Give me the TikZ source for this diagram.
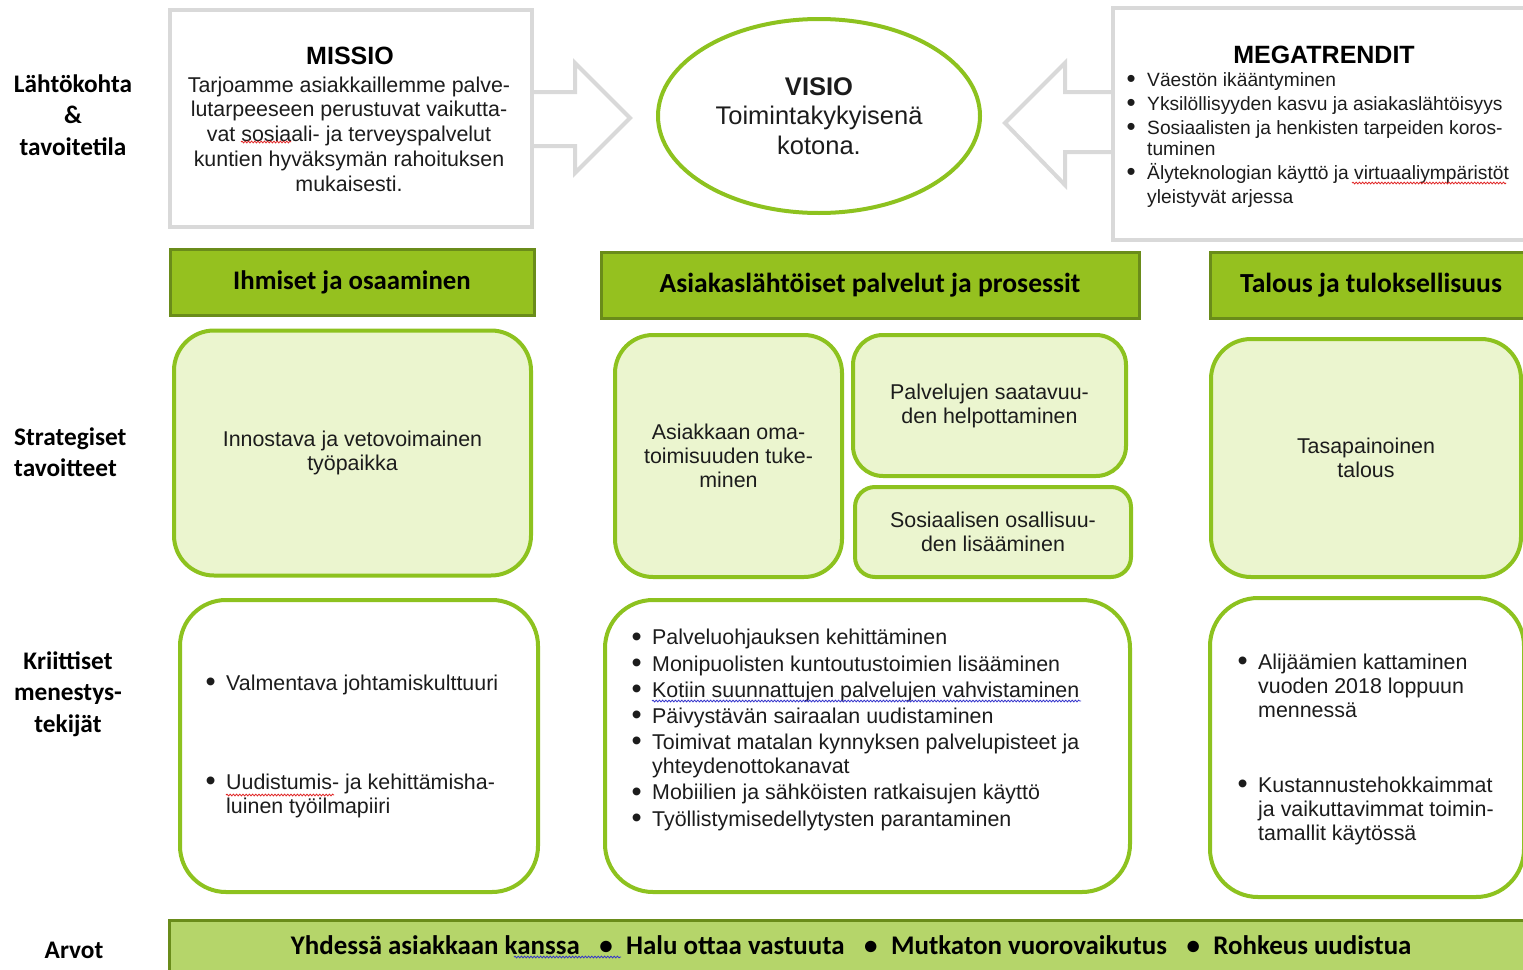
\documentclass[tikz,border=0pt]{standalone}
\usepackage{fontspec}
\setmainfont{Liberation Sans}
\newfontfamily\calfont{Carlito}
\usetikzlibrary{shapes.geometric,decorations.pathmorphing}

\definecolor{grn}{HTML}{8DC21F}
\definecolor{hdrfill}{HTML}{95C11F}
\definecolor{hdrline}{HTML}{6A8C1A}
\definecolor{softfill}{HTML}{EBF5CF}
\definecolor{barfill}{HTML}{B5D56A}
\definecolor{greyline}{HTML}{D9D9D9}
\definecolor{ink}{HTML}{1C1C1C}
\definecolor{spellred}{HTML}{E02424}
\definecolor{spellblue}{HTML}{3333CC}

% bullet in a fixed-width box, and the matching hanging indent
\newcommand{\bul}{\makebox[19pt][l]{\hspace{-1.5pt}\raisebox{-1.2pt}{\scalebox{1.35}{\textbullet}}}}
\newcommand{\cnt}{\hspace*{19pt}}

\tikzset{
  greybox/.style={draw=greyline, line width=4pt, fill=white, inner sep=0pt},
  greyarrow/.style={draw=greyline, line width=4pt, line join=miter},
  header/.style={draw=hdrline, line width=3pt, fill=hdrfill, inner sep=0pt,
    font=\calfont\bfseries\fontsize{27.6}{30}\selectfont, text=black},
  goal/.style={draw=grn, line width=4pt, fill=softfill, inner sep=0pt,
    align=center, text=ink, font=\fontsize{21.4}{24}\selectfont},
  factor/.style={draw=grn, line width=4pt, fill=white, inner sep=0pt},
  rowlabel/.style={font=\calfont\bfseries\fontsize{25.3}{31.5}\selectfont, text=black, inner sep=0pt},
  body/.style={font=\fontsize{21.4}{24.8}\selectfont, text=ink, inner sep=0pt},
  listtext/.style={anchor=west, align=left, inner sep=0pt, text=ink,
    font=\fontsize{21.4}{24}\selectfont},
  title/.style={font=\bfseries\fontsize{25}{28}\selectfont, text=black, inner sep=0pt},
  spell/.style={line width=0.8pt, decorate,
    decoration={snake, amplitude=0.9pt, segment length=3.2pt}},
}

\begin{document}
\begin{tikzpicture}[x=1pt, y=-1pt]
\useasboundingbox (0,0) rectangle (1523,969);

% ---------- row labels ----------
\node[rowlabel, align=center] (lblStart) at (73,115) {Lähtökohta\\\&\\tavoitetila};
\node[rowlabel, align=left, anchor=west] (lblGoals) at (14,452) {Strategiset\\tavoitteet};
\node[rowlabel, align=center] (lblFactors) at (68,694) {Kriittiset\\menestys-\\tekijät};
\node[rowlabel] (lblValues) at (74,950) {Arvot};

% ---------- mission ----------
\node[greybox, minimum width=362, minimum height=217] (missio) at (351,118.5) {};
\draw[greyarrow] (missio.east |- 0,92) -- (575,92) -- (575,63) -- (630,118)
  -- (575,173) -- (575,146) -- (missio.east |- 0,146);
\node[title] (missioTitle) at (350,56) {MISSIO};
\node[body, align=center] (missioText) at (349,134)
  {Tarjoamme asiakkaillemme palve-\\lutarpeeseen perustuvat vaikutta-\\vat sosiaali- ja terveyspalvelut\\kuntien hyväksymän rahoituksen\\mukaisesti.};

% ---------- vision ----------
\node[draw=grn, line width=4pt, ellipse, minimum width=322, minimum height=194,
  inner sep=0pt, align=center, text=ink, font=\fontsize{25.5}{29.5}\selectfont]
  (visio) at (819,116) {\textbf{VISIO}\\Toimintakykyisenä\\kotona.};

% ---------- megatrends ----------
\node[greybox, minimum width=425, minimum height=232] (mega) at (1325.5,124) {};
\draw[greyarrow] (mega.west |- 0,92) -- (1065,92) -- (1065,63) -- (1005,123)
  -- (1065,185) -- (1065,152) -- (mega.west |- 0,152);
\node[title] (megaTitle) at (1324,55) {MEGATRENDIT};
\node[listtext, font=\fontsize{19.2}{21.3}\selectfont] (megaList) at (1128,140)
  {\bul Väestön ikääntyminen\\[2.7pt]
   \bul Yksilöllisyyden kasvu ja asiakaslähtöisyys\\[2.7pt]
   \bul Sosiaalisten ja henkisten tarpeiden koros-\\
   \cnt tuminen\\[2.7pt]
   \bul Älyteknologian käyttö ja virtuaaliympäristöt\\[2.7pt]
   \cnt yleistyvät arjessa};

% ---------- perspective headers ----------
\node[header, minimum width=364, minimum height=66, font=\calfont\bfseries\fontsize{26.8}{30}\selectfont]
  (hPeople) at (352,282) {Ihmiset ja osaaminen};
\node[header, minimum width=538, minimum height=66] (hServices) at (870,285) {Asiakaslähtöiset palvelut ja prosessit};
\node[header, minimum width=322, minimum height=66] (hEconomy) at (1371,285) {Talous ja tuloksellisuus};

% ---------- strategic goals ----------
\node[goal, rounded corners=40pt, minimum width=357, minimum height=245] (gWork) at (352.5,453)
  {Innostava ja vetovoimainen\\työpaikka};
\node[goal, rounded corners=38pt, minimum width=227, minimum height=242] (gSelf) at (728.5,456)
  {Asiakkaan oma-\\toimisuuden tuke-\\minen};
\node[goal, rounded corners=30pt, minimum width=273, minimum height=141] (gAccess) at (989.5,405.5)
  {Palvelujen saatavuu-\\den helpottaminen};
\node[goal, rounded corners=20pt, minimum width=276, minimum height=90] (gSocial) at (993,532)
  {Sosiaalisen osallisuu-\\den lisääminen};
\node[goal, rounded corners=40pt, minimum width=310, minimum height=238] (gBalance) at (1366,458)
  {Tasapainoinen\\talous};

% ---------- critical success factors ----------
\node[factor, rounded corners=46pt, minimum width=358, minimum height=292] (fPeople) at (359,746) {};
\node[factor, rounded corners=48pt, minimum width=525, minimum height=292] (fServices) at (867.5,746) {};
\node[factor, rounded corners=48pt, minimum width=314, minimum height=299] (fEconomy) at (1367,747.5) {};

\node[listtext] (fPeople1) at (207,685) {\bul Valmentava johtamiskulttuuri};
\node[listtext] (fPeople2) at (207,796) {\bul Uudistumis- ja kehittämisha-\\\cnt luinen työilmapiiri};

\node[listtext] (fServicesList) at (633,730)
  {\bul Palveluohjauksen kehittäminen\\[2.2pt]
   \bul Monipuolisten kuntoutustoimien lisääminen\\[2.2pt]
   \bul Kotiin suunnattujen palvelujen vahvistaminen\\[2.2pt]
   \bul Päivystävän sairaalan uudistaminen\\[2.2pt]
   \bul Toimivat matalan kynnyksen palvelupisteet ja\\
   \cnt yhteydenottokanavat\\[2.2pt]
   \bul Mobiilien ja sähköisten ratkaisujen käyttö\\[2.2pt]
   \bul Työllistymisedellytysten parantaminen};

\node[listtext] (fEconomy1) at (1239,686) {\bul Alijäämien kattaminen\\\cnt vuoden 2018 loppuun\\\cnt mennessä};
\node[listtext] (fEconomy2) at (1239,810.5) {\bul Kustannustehokkaimmat\\\cnt ja vaikuttavimmat toimin-\\\cnt tamallit käytössä};

% ---------- values ----------
\node[draw=hdrline, line width=3pt, fill=barfill, minimum width=1366, minimum height=56,
  inner sep=0pt] (values) at (852,948) {};
\node[font=\calfont\bfseries\fontsize{26.9}{30}\selectfont, text=black, inner sep=0pt] (valuesText) at (851,945)
  {Yhdessä asiakkaan kanssa \enspace\textbullet\enspace Halu ottaa vastuuta \enspace\textbullet\enspace Mutkaton vuorovaikutus \enspace\textbullet\enspace Rohkeus uudistua};

% ---------- proofing marks ----------
\draw[spell, spellred] (241,142) -- (291,142);
\draw[spell, spellred] (1352,183) -- (1506,183);
\draw[spell, spellblue] (652,701) -- (1081,701);
\draw[spell, spellred] (226,795) -- (334,795);
\draw[spell, spellblue] (514,957) -- (621,957);
\end{tikzpicture}
\end{document}
